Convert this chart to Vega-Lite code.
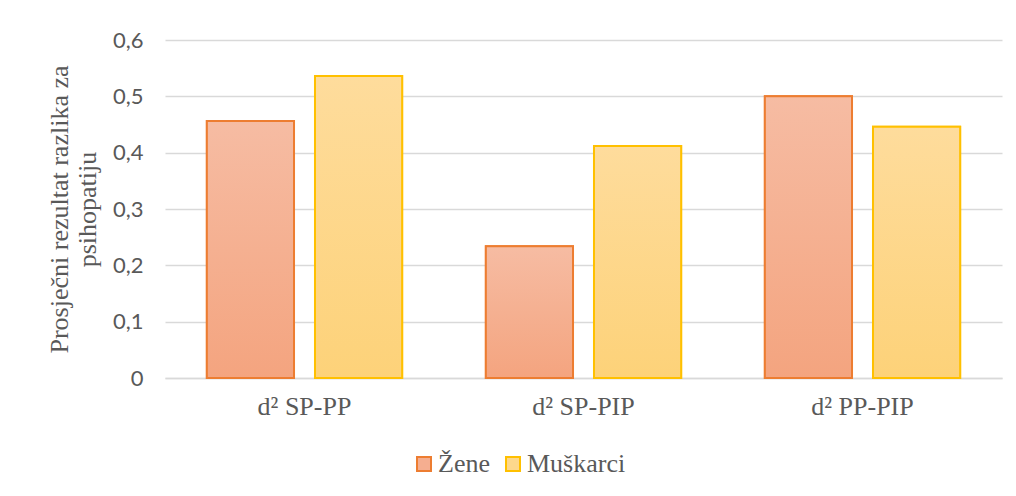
{
  "$schema": "https://vega.github.io/schema/vega-lite/v6.json",
  "width": 837,
  "height": 338,
  "autosize": {"type": "none"},
  "padding": {"left": 165, "top": 40, "right": 14, "bottom": 118},
  "background": "white",
  "config": {"view": {"stroke": null}},
  "data": {
    "values": [
      {"kat": "d² SP-PP", "spol": "Žene", "vrijednost": 0.456},
      {"kat": "d² SP-PP", "spol": "Muškarci", "vrijednost": 0.536},
      {"kat": "d² SP-PIP", "spol": "Žene", "vrijednost": 0.234},
      {"kat": "d² SP-PIP", "spol": "Muškarci", "vrijednost": 0.412},
      {"kat": "d² PP-PIP", "spol": "Žene", "vrijednost": 0.5},
      {"kat": "d² PP-PIP", "spol": "Muškarci", "vrijednost": 0.446}
    ]
  },
  "encoding": {
    "x": {
      "field": "kat", "type": "nominal", "sort": null,
      "scale": {"paddingInner": 0.3, "paddingOuter": 0.15},
      "axis": {
        "title": null, "labelAngle": 0, "ticks": false,
        "domainColor": "#D9D9D9", "domainWidth": 1.5,
        "labelFont": "Liberation Serif", "labelFontSize": 26, "labelColor": "#595959",
        "labelPadding": 15
      }
    },
    "xOffset": {
      "field": "spol", "type": "nominal", "sort": ["Žene", "Muškarci"],
      "scale": {"domain": ["Žene", "Muškarci"], "paddingInner": 0.194, "paddingOuter": 0}
    },
    "y": {
      "field": "vrijednost", "type": "quantitative",
      "scale": {"domain": [0, 0.6], "nice": false},
      "axis": {
        "values": [0, 0.1, 0.2, 0.3, 0.4, 0.5, 0.6],
        "labelExpr": "datum.value == 0 ? '0' : replace(format(datum.value, '.1f'), '.', ',')",
        "domain": false, "ticks": false, "gridColor": "#D9D9D9", "gridWidth": 1.5,
        "labelFont": "Lato", "labelFontSize": 22, "labelColor": "#595959", "labelPadding": 22,
        "title": ["Prosječni rezultat razlika za", "psihopatiju"],
        "titleFont": "Liberation Serif", "titleFontSize": 26, "titleFontWeight": "normal",
        "titleColor": "#595959", "titlePadding": 12, "titleLineHeight": 28
      }
    }
  },
  "layer": [
    {
      "mark": {"type": "bar", "strokeWidth": 2},
      "encoding": {
        "fill": {
          "field": "spol", "type": "nominal",
          "scale": {"domain": ["Žene", "Muškarci"], "range": ["#F5AE90", "#FDD88C"]},
          "legend": {
            "title": null, "orient": "none", "direction": "horizontal",
            "legendX": 246, "legendY": 411,
            "symbolType": "square", "symbolSize": 196, "symbolStrokeWidth": 2,
            "labelFont": "Liberation Serif", "labelFontSize": 26, "labelColor": "#595959",
            "labelOffset": 1, "columnPadding": 10
          }
        },
        "stroke": {
          "field": "spol", "type": "nominal",
          "scale": {"domain": ["Žene", "Muškarci"], "range": ["#ED7D31", "#FFC000"]},
          "legend": {
            "title": null, "orient": "none", "direction": "horizontal",
            "legendX": 246, "legendY": 411,
            "symbolType": "square", "symbolSize": 196, "symbolStrokeWidth": 2,
            "labelFont": "Liberation Serif", "labelFontSize": 26, "labelColor": "#595959",
            "labelOffset": 1, "columnPadding": 10
          }
        }
      }
    },
    {
      "transform": [{"filter": "datum.spol == 'Žene'"}],
      "mark": {
        "type": "bar", "stroke": "#ED7D31", "strokeWidth": 2,
        "fill": {
          "gradient": "linear", "x1": 0, "y1": 0, "x2": 0, "y2": 1,
          "stops": [{"offset": 0, "color": "#F6BCA3"}, {"offset": 1, "color": "#F4A47F"}]
        }
      }
    },
    {
      "transform": [{"filter": "datum.spol == 'Muškarci'"}],
      "mark": {
        "type": "bar", "stroke": "#FFC000", "strokeWidth": 2,
        "fill": {
          "gradient": "linear", "x1": 0, "y1": 0, "x2": 0, "y2": 1,
          "stops": [{"offset": 0, "color": "#FEDC9C"}, {"offset": 1, "color": "#FDD279"}]
        }
      }
    }
  ]
}
